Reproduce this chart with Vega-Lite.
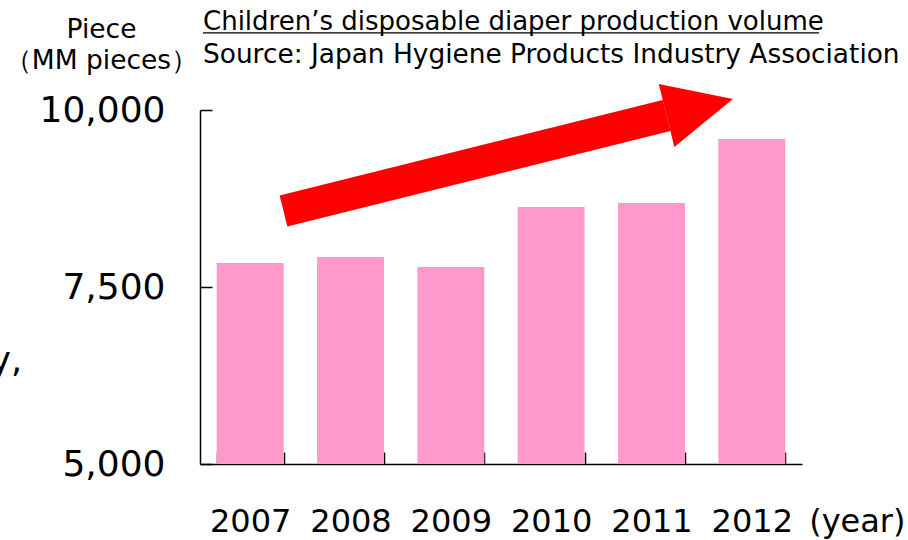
{
  "$schema": "https://vega.github.io/schema/vega-lite/v6.json",
  "width": 602,
  "height": 354,
  "autosize": {"type": "none"},
  "padding": {"left": 200, "top": 110, "right": 106, "bottom": 76},
  "background": "white",
  "config": {
    "view": {"stroke": null},
    "font": "DejaVu Sans",
    "axis": {"grid": false, "domainColor": "black", "domainWidth": 1.5, "tickColor": "black", "tickWidth": 1.5, "labelColor": "black", "titleColor": "black", "titleFontWeight": "normal"}
  },
  "title": {
    "text": "Children’s disposable diaper production volume",
    "subtitle": "Source: Japan Hygiene Products Industry Association",
    "anchor": "start",
    "frame": "group",
    "fontSize": 26,
    "fontWeight": "normal",
    "subtitleFontSize": 26.4,
    "color": "black",
    "subtitleColor": "black",
    "subtitlePadding": 7,
    "offset": 0,
    "dx": 3,
    "dy": 52
  },
  "datasets": {
    "bars": [
      {"year": "2007", "v": 7839},
      {"year": "2008", "v": 7924},
      {"year": "2009", "v": 7782},
      {"year": "2010", "v": 8630},
      {"year": "2011", "v": 8686},
      {"year": "2012", "v": 9590}
    ],
    "arrow": [
      {"x": 0.832, "v": 8573, "head": false},
      {"x": 4.65, "v": 9922, "head": true}
    ],
    "notes": [
      {"x": -1.774, "v": 6299, "label": "y,"}
    ],
    "underline": [
      {"x": 0.03, "x2": 6.17, "v": 11088}
    ]
  },
  "encoding": {
    "y": {
      "field": "v",
      "type": "quantitative",
      "scale": {"domain": [5000, 10000], "nice": false, "zero": false},
      "axis": {
        "values": [5000, 7500, 10000],
        "format": ",.0f",
        "labelFontSize": 36,
        "labelPadding": 47,
        "tickSize": -12,
        "title": ["Piece", "（MM pieces）"],
        "titleFontSize": 26.5,
        "titleAngle": 0,
        "titleAlign": "center",
        "titleBaseline": "alphabetic",
        "titleLineHeight": 31,
        "titleX": -99,
        "titleY": -73
      }
    }
  },
  "layer": [
    {
      "data": {"name": "bars"},
      "mark": {"type": "bar", "color": "#ff99cc", "clip": true},
      "encoding": {
        "x": {
          "field": "year",
          "type": "ordinal",
          "scale": {"paddingInner": 0.333, "paddingOuter": 0.1667},
          "axis": {
            "labelAngle": 0,
            "labelFontSize": 32,
            "labelBaseline": "alphabetic",
            "labelPadding": 79,
            "tickBand": "extent",
            "tickSize": -12,
            "title": "(year)",
            "titleFontSize": 32,
            "titleAlign": "right",
            "titleBaseline": "alphabetic",
            "titleX": 705,
            "titleY": 67
          }
        }
      }
    },
    {
      "encoding": {
        "x": {"field": "x", "type": "quantitative", "scale": {"domain": [0, 6], "nice": false, "zero": false}, "axis": null}
      },
      "layer": [
        {
          "data": {"name": "arrow"},
          "mark": {"type": "line", "color": "#ff0000", "strokeWidth": 32, "strokeCap": "butt"},
          "encoding": {}
        },
        {
          "data": {"name": "arrow"},
          "transform": [{"filter": "datum.head"}],
          "mark": {"type": "point", "shape": "M0,-1L2.11,0L0,1Z", "size": 4199, "angle": 346.1, "filled": true, "color": "#ff0000", "opacity": 1, "strokeWidth": 0},
          "encoding": {}
        },
        {
          "data": {"name": "notes"},
          "mark": {"type": "text", "align": "right", "baseline": "alphabetic", "fontSize": 35, "color": "black"},
          "encoding": {"text": {"field": "label"}}
        },
        {
          "data": {"name": "underline"},
          "mark": {"type": "rule", "color": "black", "strokeWidth": 1.2},
          "encoding": {"x2": {"field": "x2"}}
        }
      ]
    }
  ],
  "resolve": {"scale": {"x": "independent"}}
}
